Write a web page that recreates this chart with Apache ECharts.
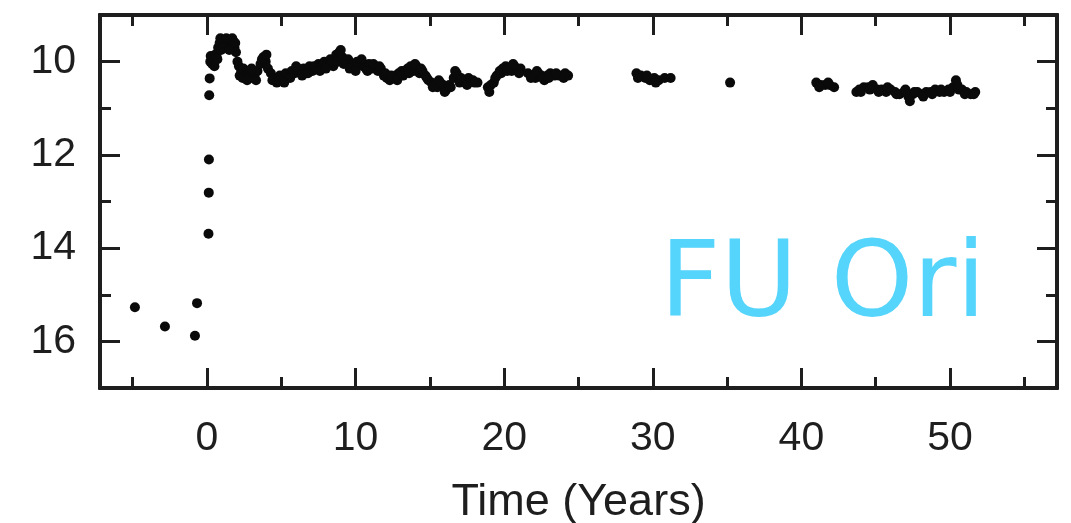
<!DOCTYPE html>
<html>
<head>
<meta charset="utf-8">
<script src="https://cdn.jsdelivr.net/npm/echarts@6/dist/echarts.min.js"></script>
<style>
  html, body { margin: 0; padding: 0; background: #fff; }
  #chart { width: 1071px; height: 523px; }
</style>
</head>
<body>
<div id="chart"></div>
<script>
// ---- Data ----
const timeYears = [
  -4.85, -2.83, -0.81, -0.67,
  0.10, 0.12, 0.13, 0.15, 0.18, 0.22, 0.25,
  0.35, 0.45, 0.55, 0.65, 0.75, 0.85, 0.95, 1.05, 1.15, 1.25, 1.35, 1.45, 1.6, 1.75, 1.85, 1.95,
  2.05, 2.15, 2.3, 2.45, 2.6, 2.75, 2.9, 3.05, 3.2, 3.4, 3.6, 3.8, 3.95,
  4.1, 4.3, 4.5, 4.7, 4.9, 5.1, 5.3, 5.5, 5.7, 5.9, 6.1, 6.3, 6.5, 6.7, 6.9,
  7.1, 7.3, 7.5, 7.7, 7.9, 8.1, 8.3, 8.5, 8.7, 8.9, 9.1, 9.3, 9.5, 9.7, 9.9,
  10.1, 10.3, 10.5, 10.7, 10.9, 11.1, 11.3, 11.5, 11.7, 11.9, 12.1, 12.3, 12.5, 12.7, 12.9,
  13.1, 13.3, 13.5, 13.7, 13.9, 14.1, 14.3, 14.5, 14.7, 14.9, 15.1, 15.3, 15.5, 15.7, 15.9,
  16.1, 16.3, 16.6, 16.8, 17.0, 17.2, 17.4, 17.6, 17.9, 18.2,
  18.9, 19.1, 19.3, 19.5, 19.7, 19.9, 20.1, 20.3, 20.5, 20.7, 20.9, 21.1,
  21.6, 21.9, 22.1, 22.3, 22.5, 22.7, 22.9, 23.1, 23.4, 23.7, 24.0, 24.3,
  28.9, 29.2, 29.5, 29.8, 30.1, 30.4, 30.8, 31.2,
  35.2,
  41.0, 41.3, 41.6, 41.9, 42.2,
  43.7, 43.9, 44.2, 44.5, 44.8, 45.1, 45.4, 45.7, 46.0, 46.3, 46.6, 46.9, 47.2, 47.5,
  47.8, 48.1, 48.4, 48.7, 49.0, 49.3, 49.6, 49.9, 50.2, 50.5, 50.8, 51.1, 51.4, 51.7
];
const magnitude = [
  15.27, 15.68, 15.88, 15.18,
  13.69, 12.81, 12.10, 10.72, 10.36, 10.00, 9.88,
  10.05, 9.95, 9.85, 9.90, 9.70, 9.60, 9.75, 9.55, 9.60, 9.70, 9.55, 9.60, 9.65, 9.55, 9.70, 9.80,
  10.00, 10.10, 10.20, 10.15, 10.30, 10.20, 10.25, 10.35, 10.30, 10.20, 10.05, 9.90, 10.00,
  10.15, 10.25, 10.35, 10.45, 10.30, 10.35, 10.25, 10.30, 10.20, 10.25, 10.15, 10.20, 10.15, 10.25, 10.10,
  10.20, 10.15, 10.05, 10.10, 10.00, 10.05, 9.95, 10.10, 9.85, 9.80, 9.90, 10.00, 9.95, 10.05, 10.10,
  10.00, 10.05, 10.10, 10.15, 10.05, 10.15, 10.10, 10.20, 10.15, 10.30, 10.35, 10.40, 10.35, 10.30, 10.25,
  10.20, 10.20, 10.15, 10.10, 10.20, 10.10, 10.25, 10.20, 10.30, 10.40, 10.45, 10.50, 10.55, 10.45, 10.50,
  10.60, 10.50, 10.35, 10.25, 10.45, 10.40, 10.45, 10.35, 10.40, 10.45,
  10.55, 10.50, 10.45, 10.30, 10.20, 10.15, 10.10, 10.15, 10.20, 10.10, 10.20, 10.15,
  10.25, 10.30, 10.35, 10.25, 10.30, 10.40, 10.30, 10.25, 10.30, 10.30, 10.35, 10.30,
  10.25, 10.30, 10.35, 10.40, 10.35, 10.40, 10.35, 10.35,
  10.45,
  10.45, 10.50, 10.50, 10.50, 10.55,
  10.65, 10.60, 10.55, 10.55, 10.50, 10.60, 10.60, 10.65, 10.60, 10.65, 10.70, 10.65, 10.75, 10.70,
  10.65, 10.70, 10.65, 10.65, 10.60, 10.65, 10.65, 10.60, 10.55, 10.50, 10.60, 10.65, 10.70, 10.65
];
// additional overlapping observations that thicken the dense parts of the light curve
const timeYearsExtra = [
  0.5, 0.7, 0.9, 1.1, 1.3, 1.5, 1.7, 1.9, 2.2, 2.4, 2.7, 3.0, 3.3, 3.7, 4.0, 4.4, 4.8,
  5.2, 5.6, 6.0, 6.4, 6.8, 7.2, 7.6, 8.0, 8.4, 8.8, 9.0, 9.2, 9.6, 10.0, 10.4, 10.8,
  11.2, 11.6, 12.0, 12.4, 12.8, 13.2, 13.6, 14.0, 14.4, 14.8, 15.2, 15.6, 16.0, 16.4,
  16.7, 17.1, 17.5, 18.0, 19.0, 19.4, 19.8, 20.2, 20.6, 21.0, 21.8, 22.2, 22.6, 23.0,
  23.5, 24.1, 29.0, 29.6, 30.2, 41.2, 41.8, 44.0, 44.6, 45.2, 45.8, 46.4, 47.0, 47.3,
  47.6, 48.2, 48.8, 49.4, 50.0, 50.4, 50.6, 51.0, 51.6
];
const magnitudeExtra = [
  10.10, 9.95, 9.50, 9.70, 9.50, 9.75, 9.50, 9.60, 10.30, 10.35, 10.40, 10.15, 10.40, 9.95, 9.85, 10.40, 10.40,
  10.45, 10.35, 10.10, 10.30, 10.25, 10.10, 10.20, 10.15, 10.00, 10.00, 9.75, 10.05, 10.15, 10.20, 9.95, 10.20,
  10.05, 10.10, 10.25, 10.30, 10.40, 10.30, 10.25, 10.05, 10.15, 10.35, 10.55, 10.40, 10.65, 10.55,
  10.20, 10.35, 10.50, 10.45, 10.65, 10.35, 10.25, 10.20, 10.05, 10.25, 10.35, 10.20, 10.35, 10.35,
  10.25, 10.25, 10.35, 10.30, 10.45, 10.55, 10.45, 10.65, 10.60, 10.65, 10.55, 10.70, 10.60, 10.85,
  10.65, 10.75, 10.70, 10.60, 10.65, 10.40, 10.60, 10.70, 10.70
];
const xMajorTicks = [0, 10, 20, 30, 40, 50];
const xMinorTicks = [-5, 5, 15, 25, 35, 45, 55];
const yMajorTicks = [10, 12, 14, 16];
const yMinorTicks = [11, 13, 15];
const xTitle = 'Time (Years)';
const starName = 'FU Ori';

// ---- Chart ----
const INK = '#1e1e1e';
const FONT = 'Liberation Sans, Arial, Helvetica, sans-serif';

function xAxis(pos, ticks, len, showLabel, extra) {
  return Object.assign({
    type: 'value', position: pos, min: -7.2, max: 57.2,
    axisLine: { show: true, onZero: false, lineStyle: { color: INK, width: 4 } },
    axisTick: { show: true, inside: true, length: len, customValues: ticks, lineStyle: { color: INK, width: 3 } },
    axisLabel: { show: showLabel, customValues: ticks, color: INK, fontSize: 41, fontFamily: FONT, margin: 30 },
    splitLine: { show: false }
  }, extra || {});
}
function yAxis(pos, ticks, len, showLabel) {
  return {
    type: 'value', position: pos, min: 9, max: 17, inverse: true,
    axisLine: { show: true, onZero: false, lineStyle: { color: INK, width: 4 } },
    axisTick: { show: true, inside: true, length: len, customValues: ticks, lineStyle: { color: INK, width: 3 } },
    axisLabel: { show: showLabel, customValues: ticks, color: INK, fontSize: 41, fontFamily: FONT, margin: 24 },
    splitLine: { show: false }
  };
}

const points = timeYears.map((t, i) => [t, magnitude[i]])
  .concat(timeYearsExtra.map((t, i) => [t, magnitudeExtra[i]]));

const chart = echarts.init(document.getElementById('chart'), null, { renderer: 'canvas' });
chart.setOption({
  backgroundColor: '#fff',
  animation: false,
  grid: { left: 100, right: 14, top: 15, bottom: 135, containLabel: false, outerBoundsMode: 'none' },
  xAxis: [
    xAxis('bottom', xMajorTicks, 20, true, {
      name: xTitle, nameLocation: 'middle', nameGap: 92,
      nameTextStyle: { color: INK, fontSize: 45, fontFamily: FONT }
    }),
    xAxis('bottom', xMinorTicks, 11, false),
    xAxis('top', xMajorTicks, 20, false),
    xAxis('top', xMinorTicks, 11, false)
  ],
  yAxis: [
    yAxis('left', yMajorTicks, 20, true),
    yAxis('left', yMinorTicks, 11, false),
    yAxis('right', yMajorTicks, 20, false),
    yAxis('right', yMinorTicks, 11, false)
  ],
  series: [{
    type: 'scatter',
    xAxisIndex: 0, yAxisIndex: 0,
    symbol: 'circle', symbolSize: 10,
    itemStyle: { color: '#0a0a0a', opacity: 1 },
    data: points
  }],
  graphic: [{
    type: 'text',
    left: 660, top: 236,
    style: {
      text: starName,
      fill: '#55D4FC',
      font: 'normal 105px "Comic Sans MS", "DejaVu Sans", sans-serif'
    }
  }]
});
</script>
</body>
</html>
